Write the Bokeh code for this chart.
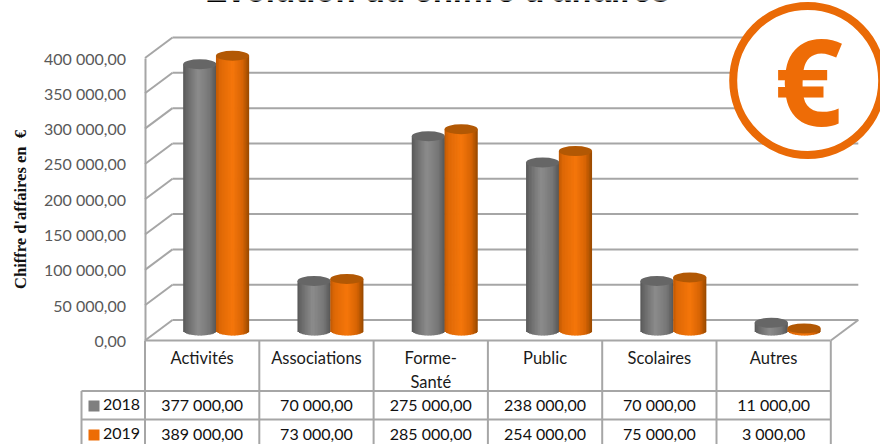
import math
from bokeh.embed import file_html
from bokeh.resources import INLINE
from bokeh.plotting import figure
from bokeh.models import Range1d, FixedTicker, Label
from bokeh.core.properties import value

categories = ["Activités", "Associations", "Forme-\nSanté", "Public", "Scolaires", "Autres"]
series_names = ["2018", "2019"]
values_2018 = [377000, 70000, 275000, 238000, 70000, 11000]
values_2019 = [389000, 73000, 285000, 254000, 75000, 3000]
labels_2018 = ["377 000,00", "70 000,00", "275 000,00", "238 000,00", "70 000,00", "11 000,00"]
labels_2019 = ["389 000,00", "73 000,00", "285 000,00", "254 000,00", "75 000,00", "3 000,00"]
y_ticks = [0, 50000, 100000, 150000, 200000, 250000, 300000, 350000, 400000]
y_tick_labels = ["0,00", "50 000,00", "100 000,00", "150 000,00", "200 000,00",
                 "250 000,00", "300 000,00", "350 000,00", "400 000,00"]

W, H = 880, 444
COL = 114.3            # px per category
X0 = 145.5             # px of left edge of table
Y0 = 341.0             # px of value 0
SY = (341.0 - 58.5) / 400000   # px per unit


def dx(px):
    return px / COL


def dy(px):
    return px / SY


def X(px):
    return (px - X0) / COL - 0.5


def Y(px):
    return (Y0 - px) / SY


p = figure(width=W, height=H, output_backend="svg", toolbar_location=None,
           x_range=Range1d(X(1), X(W + 1)), y_range=Range1d(Y(H + 1), Y(1)),
           min_border=0, min_border_left=0, min_border_right=0,
           min_border_top=0, min_border_bottom=0)
p.outline_line_color = None
p.grid.visible = False
p.background_fill_color = "white"

LINE = "#a6a6a6"
TXT = "Lato"

# Axes
ya = p.yaxis[0]
ya.fixed_location = -0.5
ya.ticker = FixedTicker(ticks=y_ticks)
ya.major_label_overrides = dict(zip(y_ticks, y_tick_labels))
ya.bounds = (0, 400000)
ya.major_tick_line_color = None
ya.minor_tick_line_color = None
ya.axis_line_color = LINE
ya.axis_line_width = 2
ya.major_label_standoff = 13
ya.major_label_text_font = TXT
ya.major_label_text_font_size = "16px"
ya.major_label_text_color = "#595959"

xa = p.xaxis[0]
xa.fixed_location = 0
xa.ticker = FixedTicker(ticks=list(range(len(categories))))
xa.major_label_overrides = dict(enumerate(categories))
xa.bounds = (-0.5, 5.5)
xa.major_tick_line_color = None
xa.minor_tick_line_color = None
xa.axis_line_color = LINE
xa.axis_line_width = 2
xa.major_label_standoff = 1
xa.major_label_text_font = TXT
xa.major_label_text_font_size = "16.5px"
xa.major_label_text_color = "#1a1a1a"
xa.major_label_text_line_height = 1.2

# 3D box
BX, BY = 27.5, 20.5
xs_diag = [[-0.5, -0.5 + dx(BX)] for _ in y_ticks]
ys_diag = [[t, t + dy(BY)] for t in y_ticks]
p.multi_line(xs_diag, ys_diag, line_color=LINE, line_width=2)
p.multi_line([[-0.5 + dx(BX), 5.5 + dx(BX)] for _ in y_ticks],
             [[t + dy(BY), t + dy(BY)] for t in y_ticks], line_color=LINE, line_width=2)
p.line([5.5, 5.5 + dx(BX)], [0, dy(BY)], line_color=LINE, line_width=2)


def lerp(stops, t):
    for (t0, c0), (t1, c1) in zip(stops, stops[1:]):
        if t <= t1:
            f = (t - t0) / (t1 - t0)
            return "#%02x%02x%02x" % tuple(round(a + (b - a) * f) for a, b in zip(c0, c1))
    return "#%02x%02x%02x" % stops[-1][1]


GRAY = [(0, (88, 88, 88)), (0.12, (105, 105, 105)), (0.45, (140, 140, 140)),
        (0.8, (118, 118, 118)), (1, (84, 84, 84))]
ORANGE = [(0, (190, 88, 4)), (0.12, (222, 104, 6)), (0.5, (245, 118, 10)),
          (0.8, (215, 100, 4)), (1, (150, 72, 0))]
RX, RY = 16.6, 5.0
OFFS = [14 - 16.4, 14 + 16.4]
BASE = 10.0  # px above the floor's front edge to the base centre
N = 22

for vals, off, stops, cap in [(values_2018, OFFS[0], GRAY, "#666666"),
                              (values_2019, OFFS[1], ORANGE, "#b25804")]:
    l, r, t, b, c = [], [], [], [], []
    for i, v in enumerate(vals):
        cx = i + dx(off)
        for k in range(N):
            u0, u1 = k / N, (k + 1) / N
            mid = (u0 + u1) / 2
            o = 2 * mid - 1
            l.append(cx + dx(RX * (2 * u0 - 1)))
            r.append(cx + dx(min(RX, RX * (2 * u1 - 1) + 0.8)))
            t.append(v + dy(BASE))
            b.append(dy(BASE) - dy(RY * math.sqrt(max(0, 1 - o * o))))
            c.append(lerp(stops, mid))
    p.quad(left=l, right=r, top=t, bottom=b, fill_color=c, line_color=None)
    p.ellipse(x=[i + dx(off) for i in range(len(vals))], y=[v + dy(BASE) for v in vals],
              width=dx(2 * RX), height=dy(2 * RY), fill_color=cap, line_color=None)

# Data table
R1, R2, R3 = 391.5, 420.0, 449.0
p.multi_line([[X(82), 5.5]] * 3, [[Y(r_)] * 2 for r_ in (R1, R2, R3)], line_color=LINE, line_width=2)
p.multi_line([[i - 0.5, i - 0.5] for i in range(7)], [[0, Y(R3)]] * 7, line_color=LINE, line_width=2)
p.line([X(82), X(82)], [Y(R1), Y(R3)], line_color=LINE, line_width=2)

idx = list(range(len(categories)))
for labels, ypx in [(labels_2018, 405.0), (labels_2019, 434.0)]:
    p.text(idx, [Y(ypx)] * 6, text=labels, text_align="center", text_baseline="middle",
           text_font=value(TXT), text_font_size="16px", text_color="#111111")

# Legend keys
p.rect([X(94.5)] * 2, [Y(406.5), Y(435.5)], width=dx(11), height=dy(11),
       fill_color=["#7f7f7f", "#ed6c05"], line_color=None)
p.text([X(103.5)] * 2, [Y(405.0), Y(434.0)], text=series_names, text_align="left", text_baseline="middle",
       text_font=value(TXT), text_font_size="16px", text_color="#111111")

# Euro badge
p.scatter([X(808.2)], [Y(81)], marker="circle", size=149, fill_color="white",
          line_color="#ea6a06", line_width=8)
p.add_layout(Label(x=X(809), y=Y(80), text="€", text_align="center", text_baseline="middle",
                   text_font="Open Sans", text_font_style="bold", text_font_size="120px",
                   text_color="#ee6c06"))

# Title and axis title
p.add_layout(Label(x=X(438), y=Y(-9), text="Evolution du chiffre d'affaires", text_align="center",
                   text_baseline="alphabetic", text_font="Liberation Sans", text_font_style="bold",
                   text_font_size="33px", text_color="#000000"))
p.add_layout(Label(x=X(21), y=Y(210), text="Chiffre d'affaires en\u00a0\u00a0€", angle=math.pi / 2,
                   text_align="center", text_baseline="middle", text_font="Liberation Serif",
                   text_font_style="bold", text_font_size="16.5px", text_color="#111111"))

open("out.html", "w").write(file_html(p, INLINE))
